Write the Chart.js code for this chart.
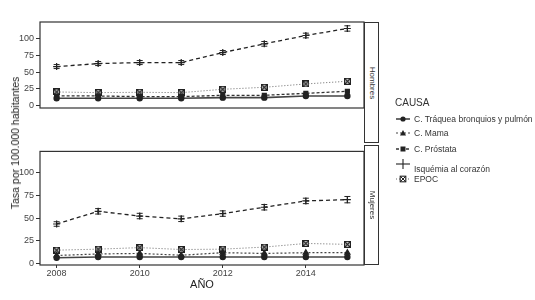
<!DOCTYPE html>
<html>
<head>
<meta charset="utf-8">
<script src="https://cdn.jsdelivr.net/npm/chart.js@4.4.0/dist/chart.umd.min.js"></script>
<style>
body { margin: 0; background: #fff; font-family: "Liberation Sans", Arial, sans-serif; }
#wrap { position: relative; width: 535px; height: 300px; overflow: hidden; }
canvas { position: absolute; left: 0; }
.t { position: absolute; color: #333; white-space: nowrap; }
.strip { position: absolute; left: 364px; width: 15px; border: 1.2px solid #333; box-sizing: border-box; background: #fff; }
.strip span { position: absolute; left: 50%; top: 50%; transform: translate(-50%, -50%) rotate(90deg); font-size: 8px; color: #333; }
.key { position: absolute; left: 395px; width: 16px; height: 10px; }
</style>
</head>
<body>
<div id="wrap">
    <canvas id="hombresChart" width="535" height="146" style="top:0"></canvas>
    <canvas id="mujeresChart" width="535" height="156" style="top:144px"></canvas>

    <div class="strip" style="top:22px;height:121px"><span>Hombres</span></div>
    <div class="strip" style="top:145px;height:120px"><span>Mujeres</span></div>

    <div class="t" style="left:15px;top:143px;font-size:10.5px;color:#222;transform:translate(-50%,-50%) rotate(-90deg)">Tasa por 100.000 habitantes</div>
    <div class="t" style="left:202px;top:284px;font-size:11px;color:#222;transform:translate(-50%,-50%)">AÑO</div>

    <div class="t" style="left:395px;top:97px;font-size:10px">CAUSA</div>
    <div id="legend"></div>
</div>

<script>
// Data
const years = [2008, 2009, 2010, 2011, 2012, 2013, 2014, 2015];
const xTicks = [2008, 2010, 2012, 2014];
const yTicks = [0, 25, 50, 75, 100];

// Hombres
const hTraquea = [11, 11, 11, 11, 12, 12, 14.5, 14.5];
const hProstata = [14.5, 14.5, 13.5, 13.5, 15.5, 15.5, 18.5, 21.5];
const hIsquemia = [58.5, 63, 64.5, 64.5, 79.5, 92.5, 105, 115.5];
const hIsquemiaErr = [3, 3, 3, 3, 3, 3.5, 3.5, 4];
const hEpoc = [20.5, 19.5, 20, 19.5, 24.5, 27.5, 32.5, 36.5];

// Mujeres
const mTraquea = [6.2, 7, 7, 7, 7, 7, 7, 7];
const mMama = [8.7, 10.4, 11, 9, 11.8, 11, 11.8, 11.8];
const mIsquemia = [43.5, 57.5, 52.3, 49.2, 55, 62, 69, 70.4];
const mIsquemiaErr = [2.5, 3, 3, 3, 3, 3, 3, 3.5];
const mEpoc = [14.6, 15.7, 17.4, 15.3, 15.7, 18, 22, 21];

const causas = ['C. Tráquea bronquios y pulmón', 'C. Mama', 'C. Próstata', 'Isquémia al corazón', 'EPOC'];

const toXY = (vals) => vals.map((v, i) => ({ x: years[i], y: v }));

// square with an x inside (ggplot shape 7)
const squareCross = (() => {
    const c = document.createElement('canvas');
    c.width = 7; c.height = 7;
    const g = c.getContext('2d');
    g.strokeStyle = '#222';
    g.lineWidth = 1.2;
    g.strokeRect(0.6, 0.6, 5.8, 5.8);
    g.beginPath();
    g.moveTo(1, 1); g.lineTo(6, 6);
    g.moveTo(6, 1); g.lineTo(1, 6);
    g.stroke();
    return c;
})();

const styles = {
    traquea: { borderColor: '#444', borderWidth: 1.6, borderDash: [], pointStyle: 'circle', pointRadius: 2.6 },
    mama: { borderColor: '#444', borderWidth: 1.2, borderDash: [2, 2], pointStyle: 'triangle', pointRadius: 3 },
    prostata: { borderColor: '#333', borderWidth: 1.3, borderDash: [3, 2], pointStyle: 'rect', pointRadius: 2.8 },
    isquemia: { borderColor: '#222', borderWidth: 1.3, borderDash: [4, 3], pointStyle: 'cross', pointRadius: 3.5 },
    epoc: { borderColor: '#666', borderWidth: 1, borderDash: [1, 2], pointStyle: squareCross, pointRadius: 3.5 },
};

const makeDataset = (label, vals, st, errors) => ({
    label: label,
    data: toXY(vals),
    errors: errors,
    fill: false,
    tension: 0,
    borderColor: st.borderColor,
    borderWidth: st.borderWidth,
    borderDash: st.borderDash,
    pointStyle: st.pointStyle,
    pointRadius: st.pointRadius,
    pointBackgroundColor: '#222',
    pointBorderColor: '#222',
    pointBorderWidth: 1.2,
});

// error bars + panel border
const panelPlugin = {
    id: 'panelPlugin',
    afterDatasetsDraw(chart) {
        const ctx = chart.ctx;
        const xs = chart.scales.x, ys = chart.scales.y;
        chart.data.datasets.forEach((ds) => {
            if (!ds.errors) return;
            ctx.save();
            ctx.strokeStyle = '#222';
            ctx.lineWidth = 1;
            ctx.setLineDash([]);
            ds.data.forEach((p, j) => {
                const x = xs.getPixelForValue(p.x);
                const yLo = ys.getPixelForValue(p.y - ds.errors[j]);
                const yHi = ys.getPixelForValue(p.y + ds.errors[j]);
                ctx.beginPath();
                ctx.moveTo(x, yLo); ctx.lineTo(x, yHi);
                ctx.moveTo(x - 3, yLo); ctx.lineTo(x + 3, yLo);
                ctx.moveTo(x - 3, yHi); ctx.lineTo(x + 3, yHi);
                ctx.stroke();
            });
            ctx.restore();
        });
    },
    afterDraw(chart) {
        const { ctx, chartArea } = chart;
        ctx.save();
        ctx.strokeStyle = '#333';
        ctx.lineWidth = 1.2;
        ctx.strokeRect(chartArea.left, chartArea.top, chartArea.right - chartArea.left, chartArea.bottom - chartArea.top);
        ctx.restore();
    }
};

const tickFont = { family: '"Liberation Sans", Arial, sans-serif', size: 9 };

const makeOptions = (yMin, yMax, showX, padding) => ({
    responsive: false,
    animation: false,
    layout: { padding: padding },
    plugins: { legend: { display: false }, tooltip: { enabled: false } },
    scales: {
        x: {
            type: 'linear',
            display: showX,
            min: 2007.6,
            max: 2015.4,
            afterBuildTicks: (axis) => { axis.ticks = xTicks.map(v => ({ value: v })); },
            afterFit: (scale) => { scale.height = 35; },
            grid: { drawOnChartArea: false, tickLength: 3, color: '#333' },
            border: { display: false },
            ticks: { font: tickFont, color: '#444', padding: 0, maxRotation: 0, callback: (v) => String(v) },
        },
        y: {
            min: yMin,
            max: yMax,
            afterBuildTicks: (axis) => { axis.ticks = yTicks.map(v => ({ value: v })); },
            afterFit: (scale) => { scale.width = 40; },
            grid: { drawOnChartArea: false, tickLength: 4, color: '#333' },
            border: { display: false },
            ticks: { font: tickFont, color: '#444', padding: 2, callback: (v) => String(v) },
        },
    },
});

new Chart(document.getElementById('hombresChart'), {
    type: 'line',
    data: {
        datasets: [
            makeDataset(causas[0], hTraquea, styles.traquea),
            makeDataset(causas[2], hProstata, styles.prostata),
            makeDataset(causas[3], hIsquemia, styles.isquemia, hIsquemiaErr),
            makeDataset(causas[4], hEpoc, styles.epoc),
        ],
    },
    options: makeOptions(-3.5, 125.2, false, { top: 22, bottom: 3, left: 0, right: 171 }),
    plugins: [panelPlugin],
});

new Chart(document.getElementById('mujeresChart'), {
    type: 'line',
    data: {
        datasets: [
            makeDataset(causas[0], mTraquea, styles.traquea),
            makeDataset(causas[1], mMama, styles.mama),
            makeDataset(causas[3], mIsquemia, styles.isquemia, mIsquemiaErr),
            makeDataset(causas[4], mEpoc, styles.epoc),
        ],
    },
    options: makeOptions(-1.8, 123.7, true, { top: 1, bottom: 0, left: 0, right: 171 }),
    plugins: [panelPlugin],
});

// Legend (keys drawn as small svgs, text as html)
const keySvg = {
    traquea: '<line x1="1" y1="5" x2="15" y2="5" stroke="#444" stroke-width="1.6"/><circle cx="8" cy="5" r="2.6" fill="#222"/>',
    mama: '<line x1="1" y1="5" x2="15" y2="5" stroke="#444" stroke-width="1.2" stroke-dasharray="2 2"/><polygon points="8,2 11,7.5 5,7.5" fill="#222"/>',
    prostata: '<line x1="1" y1="5" x2="15" y2="5" stroke="#333" stroke-width="1.3" stroke-dasharray="3 2"/><rect x="5.5" y="2.5" width="5" height="5" fill="#222"/>',
    isquemia: '<line x1="1" y1="5" x2="15" y2="5" stroke="#222" stroke-width="1.1"/><line x1="8" y1="0" x2="8" y2="10" stroke="#222" stroke-width="1.1"/>',
    epoc: '<line x1="1" y1="5" x2="15" y2="5" stroke="#666" stroke-width="1" stroke-dasharray="1 2"/><rect x="5.2" y="2.2" width="5.6" height="5.6" fill="#fff" stroke="#222" stroke-width="1.1"/><path d="M5.2 2.2 L10.8 7.8 M10.8 2.2 L5.2 7.8" stroke="#222" stroke-width="1"/>',
};
const legendItems = [
    { text: causas[0], key: 'traquea', keyY: 119, textY: 119 },
    { text: causas[1], key: 'mama', keyY: 133, textY: 133 },
    { text: causas[2], key: 'prostata', keyY: 149, textY: 149 },
    { text: causas[3], key: 'isquemia', keyY: 164, textY: 168.5 },
    { text: causas[4], key: 'epoc', keyY: 178.5, textY: 178.5 },
];
const legend = document.getElementById('legend');
legendItems.forEach((it) => {
    legend.insertAdjacentHTML('beforeend',
        '<svg class="key" style="top:' + (it.keyY - 5) + 'px" viewBox="0 0 16 10">' + keySvg[it.key] + '</svg>' +
        '<div class="t" style="left:414px;top:' + it.textY + 'px;font-size:8.5px;transform:translateY(-50%)">' + it.text + '</div>');
});
</script>
</body>
</html>
